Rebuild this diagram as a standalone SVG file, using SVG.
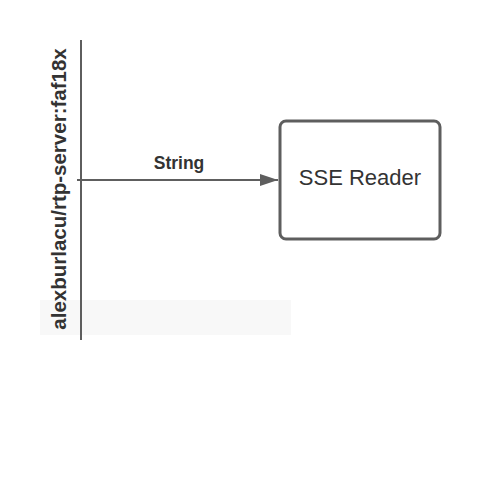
<svg xmlns="http://www.w3.org/2000/svg" width="480" height="478" viewBox="0 0 480 478">
<style>
.ln{stroke:#5e5e5e;stroke-width:2;fill:none}
.lbl{font-family:"Liberation Sans",Arial,sans-serif;fill:#333}
</style>
<defs>
<marker id="ah" markerWidth="18" markerHeight="12" refX="18" refY="6" orient="auto" markerUnits="userSpaceOnUse" viewBox="0 0 18 12">
<path d="M0,0 L18,6 L0,12 Z" fill="#5e5e5e"/>
</marker>
</defs>
<rect x="40" y="300" width="251" height="35" fill="#f8f8f8"/>
<g id="lifeline">
<line class="ln" x1="81" y1="40" x2="81" y2="340" stroke-width="3"/>
<text class="lbl" transform="translate(66,189) rotate(-90)" text-anchor="middle" font-size="20.5" font-weight="bold" fill="#111">alexburlacu/rtp-server:faf18x</text>
</g>
<g id="connectors">
<line class="ln" x1="77" y1="180" x2="278" y2="180" marker-end="url(#ah)"/>
<text class="lbl" x="179" y="169" text-anchor="middle" font-size="17.5" font-weight="bold">String</text>
</g>
<g id="sse-reader">
<rect x="280" y="121" width="160" height="118" rx="6" fill="#fff" stroke="#5e5e5e" stroke-width="3"/>
<text class="lbl" x="360" y="185" text-anchor="middle" font-size="22">SSE Reader</text>
</g>
</svg>
